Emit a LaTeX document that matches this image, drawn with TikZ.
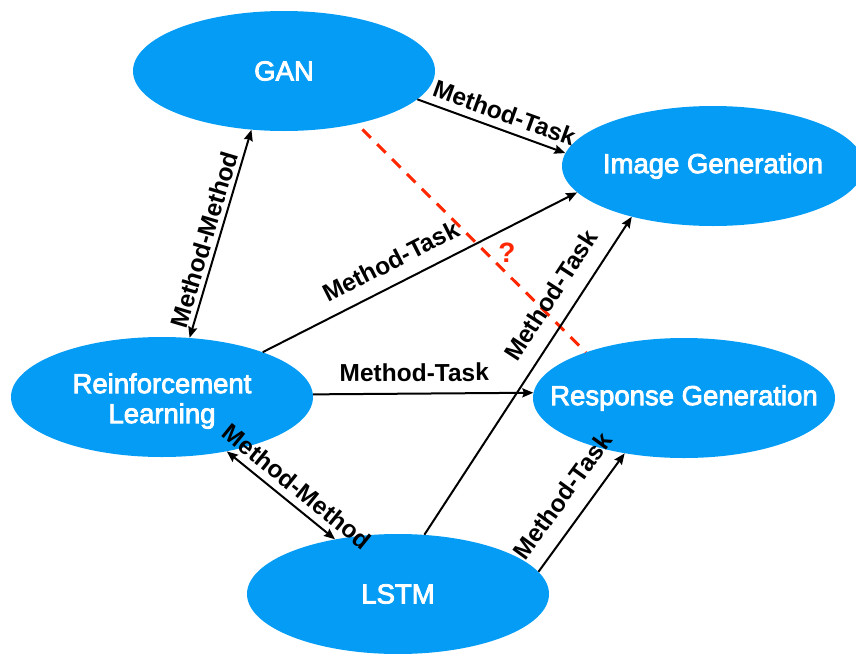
\documentclass[tikz,border=0pt]{standalone}
\usepackage{fontspec}
\setmainfont{Liberation Sans}
\newfontfamily\topicfont[FakeBold=3]{Liberation Sans}
\usetikzlibrary{arrows.meta,shapes.geometric}
\definecolor{nodeblue}{RGB}{4,156,245}
\definecolor{qred}{RGB}{255,38,0}
\begin{document}
\begin{tikzpicture}[x=1pt,y=-1pt,
  topic/.style={ellipse, fill=nodeblue, minimum width=302pt, minimum height=120pt, inner sep=0pt},
  topictext/.style={text=white, font=\topicfont\fontsize{27.5}{30}\selectfont, align=center, inner sep=0pt},
  rel/.style={line width=2pt, -{Stealth[length=11pt,width=9pt,inset=1.5pt]}},
  birel/.style={line width=2pt, {Stealth[length=11pt,width=9pt,inset=1.5pt]}-{Stealth[length=11pt,width=9pt,inset=1.5pt]}},
  lab/.style={font=\bfseries\fontsize{24.5}{26}\selectfont, sloped, above},
  guess/.style={qred, line width=3pt, dash pattern=on 12pt off 9pt},
  qmark/.style={text=qred, font=\bfseries\fontsize{28}{30}\selectfont, inner sep=0pt}
]
\useasboundingbox (0,0) rectangle (856,653);
\clip (0,0) rectangle (856,653);

\node[topic, label={[topictext]center:GAN}] (gan) at (284,71) {};
\node[topic, label={[topictext]center:Image Generation}] (img) at (713,166) {};
\node[topic, label={[topictext, yshift=-4pt]center:Reinforcement\\Learning}] (rl) at (162,397) {};
\node[topic, label={[topictext]center:Response Generation}] (resp) at (684,398) {};
\node[topic, label={[topictext]center:LSTM}] (lstm) at (398,594) {};

% red dashed unknown relation
\draw[guess, shorten <=8pt] (gan.-36) -- (resp.155);
\node[qmark] (q) at (507,253) {?};

\draw[birel] (gan.241) -- node[lab, inner sep=4pt, pos=0.547] {Method-Method} (rl.65);
\draw[rel] (gan.-12) -- node[lab, inner sep=7pt, pos=0.55] {Method-Task} (img.175);
\draw[rel] (rl.24) -- node[lab, inner sep=13pt, pos=0.44] {Method-Task} (img.191);
\draw[rel] (rl.1) -- node[lab, inner sep=11pt, pos=0.46] {Method-Task} (resp.178);
\draw[birel] (rl.-40) -- node[lab, inner sep=7pt, pos=0.55] {Method-Method} (lstm.139);
\draw[rel] (lstm.66) -- node[lab, inner sep=15pt, pos=0.71] {Method-Task} (img.212);
\draw[rel] (lstm.9) -- node[lab, inner sep=15.5pt, pos=0.515] {Method-Task} (resp.223);
\end{tikzpicture}
\end{document}
